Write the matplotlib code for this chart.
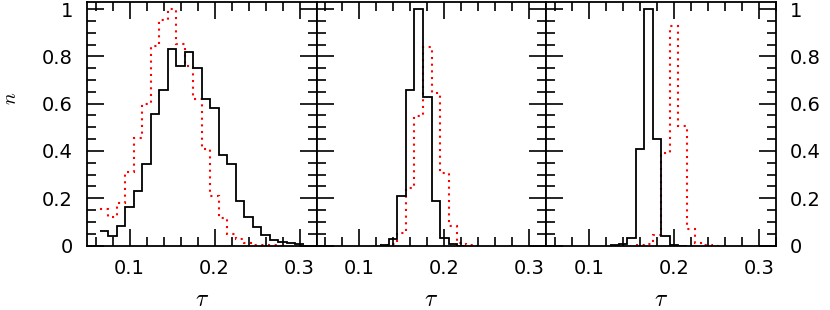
import numpy as np
import matplotlib
matplotlib.use("Agg")
import matplotlib.pyplot as plt
from matplotlib.ticker import MultipleLocator, FuncFormatter

plt.rcParams['mathtext.fontset'] = 'cm'
plt.rcParams['font.family'] = ['DejaVu Sans']

bin_width = 0.01

# Panel 1
p1_black_centers = [0.07, 0.08, 0.09, 0.10, 0.11, 0.12, 0.13, 0.14, 0.15, 0.16, 0.17, 0.18,
                    0.19, 0.20, 0.21, 0.22, 0.23, 0.24, 0.25, 0.26, 0.27, 0.28, 0.29, 0.30]
p1_black = [0.063, 0.042, 0.082, 0.164, 0.23, 0.345, 0.555, 0.657, 0.83, 0.76, 0.82, 0.75,
            0.62, 0.58, 0.383, 0.343, 0.19, 0.122, 0.08, 0.044, 0.023, 0.016, 0.012, 0.007]
p1_red_centers = [0.07, 0.08, 0.09, 0.10, 0.11, 0.12, 0.13, 0.14, 0.15, 0.16, 0.17, 0.18,
                  0.19, 0.20, 0.21, 0.22, 0.23, 0.24, 0.25, 0.26, 0.27, 0.28]
p1_red = [0.154, 0.122, 0.178, 0.31, 0.453, 0.60, 0.843, 0.953, 1.0, 0.852, 0.76, 0.62,
          0.408, 0.21, 0.115, 0.047, 0.026, 0.010, 0.004, 0.002, 0.001, 0.0]

# Panel 2
p2_black_centers = [0.13, 0.14, 0.15, 0.16, 0.17, 0.18, 0.19, 0.20, 0.21, 0.22]
p2_black = [0.002, 0.026, 0.21, 0.657, 1.0, 0.627, 0.188, 0.03, 0.005, 0.0]
p2_red_centers = [0.13, 0.14, 0.15, 0.16, 0.17, 0.18, 0.19, 0.20, 0.21, 0.22, 0.23, 0.24]
p2_red = [0.001, 0.005, 0.053, 0.242, 0.548, 0.84, 0.646, 0.308, 0.084, 0.010, 0.003, 0.0]

# Panel 3
p3_black_centers = [0.13, 0.14, 0.15, 0.16, 0.17, 0.18, 0.19, 0.20, 0.21]
p3_black = [0.001, 0.005, 0.033, 0.407, 1.0, 0.45, 0.04, 0.003, 0.0]
p3_red_centers = [0.16, 0.17, 0.18, 0.19, 0.20, 0.21, 0.22, 0.23, 0.24, 0.25]
p3_red = [0.001, 0.005, 0.044, 0.392, 0.93, 0.505, 0.068, 0.010, 0.002, 0.0]

panels = [
    (p1_black_centers, p1_black, p1_red_centers, p1_red),
    (p2_black_centers, p2_black, p2_red_centers, p2_red),
    (p3_black_centers, p3_black, p3_red_centers, p3_red),
]

xticks = [0.1, 0.2, 0.3]
yticks = [0, 0.2, 0.4, 0.6, 0.8, 1.0]


def edges_from(centers):
    c = np.asarray(centers)
    return np.concatenate([c - bin_width / 2, [c[-1] + bin_width / 2]])


def yfmt(v, pos):
    if abs(v) < 1e-9:
        return '0'
    if abs(v - 1) < 1e-9:
        return '1'
    return '%.1f' % v


def xfmt(v, pos):
    return '%.1f' % v


fig, axes = plt.subplots(1, 3, figsize=(8.3, 3.1), dpi=100, sharey=True)
fig.subplots_adjust(left=87 / 830, right=776 / 830, top=1 - 2 / 310,
                    bottom=(310 - 245.5) / 310, wspace=0)

for i, (ax, (bc, bv, rc, rv)) in enumerate(zip(axes, panels)):
    ax.stairs(rv, edges_from(rc), color='red', lw=1.5, linestyle=(0, (1, 2.2)),
              baseline=None)
    ax.stairs(bv, edges_from(bc), color='black', lw=1.3, baseline=None)
    ax.set_xlim(0.05, 0.32)
    ax.set_ylim(0, 1.03)
    ax.set_xticks(xticks)
    ax.set_yticks(yticks)
    ax.xaxis.set_minor_locator(MultipleLocator(0.02))
    ax.yaxis.set_minor_locator(MultipleLocator(0.05))
    ax.xaxis.set_major_formatter(FuncFormatter(xfmt))
    ax.yaxis.set_major_formatter(FuncFormatter(yfmt))
    ax.tick_params(which='both', direction='in', top=True, right=True,
                   bottom=True, left=True, width=1.2, colors='black')
    ax.tick_params(which='major', length=12.5, labelsize=14, pad=10)
    ax.tick_params(which='minor', length=6.5)
    ax.tick_params(axis='y', labelleft=(i == 0), labelright=(i == 2))
    for s in ax.spines.values():
        s.set_linewidth(1.3)
    ax.set_xlabel(r'$\tau$', fontsize=17, labelpad=6)

fig.text(10 / 830, 1 - 98 / 310, r'$n$', rotation=90, fontsize=14,
         ha='center', va='center')

fig.savefig('out.png', dpi=100)
